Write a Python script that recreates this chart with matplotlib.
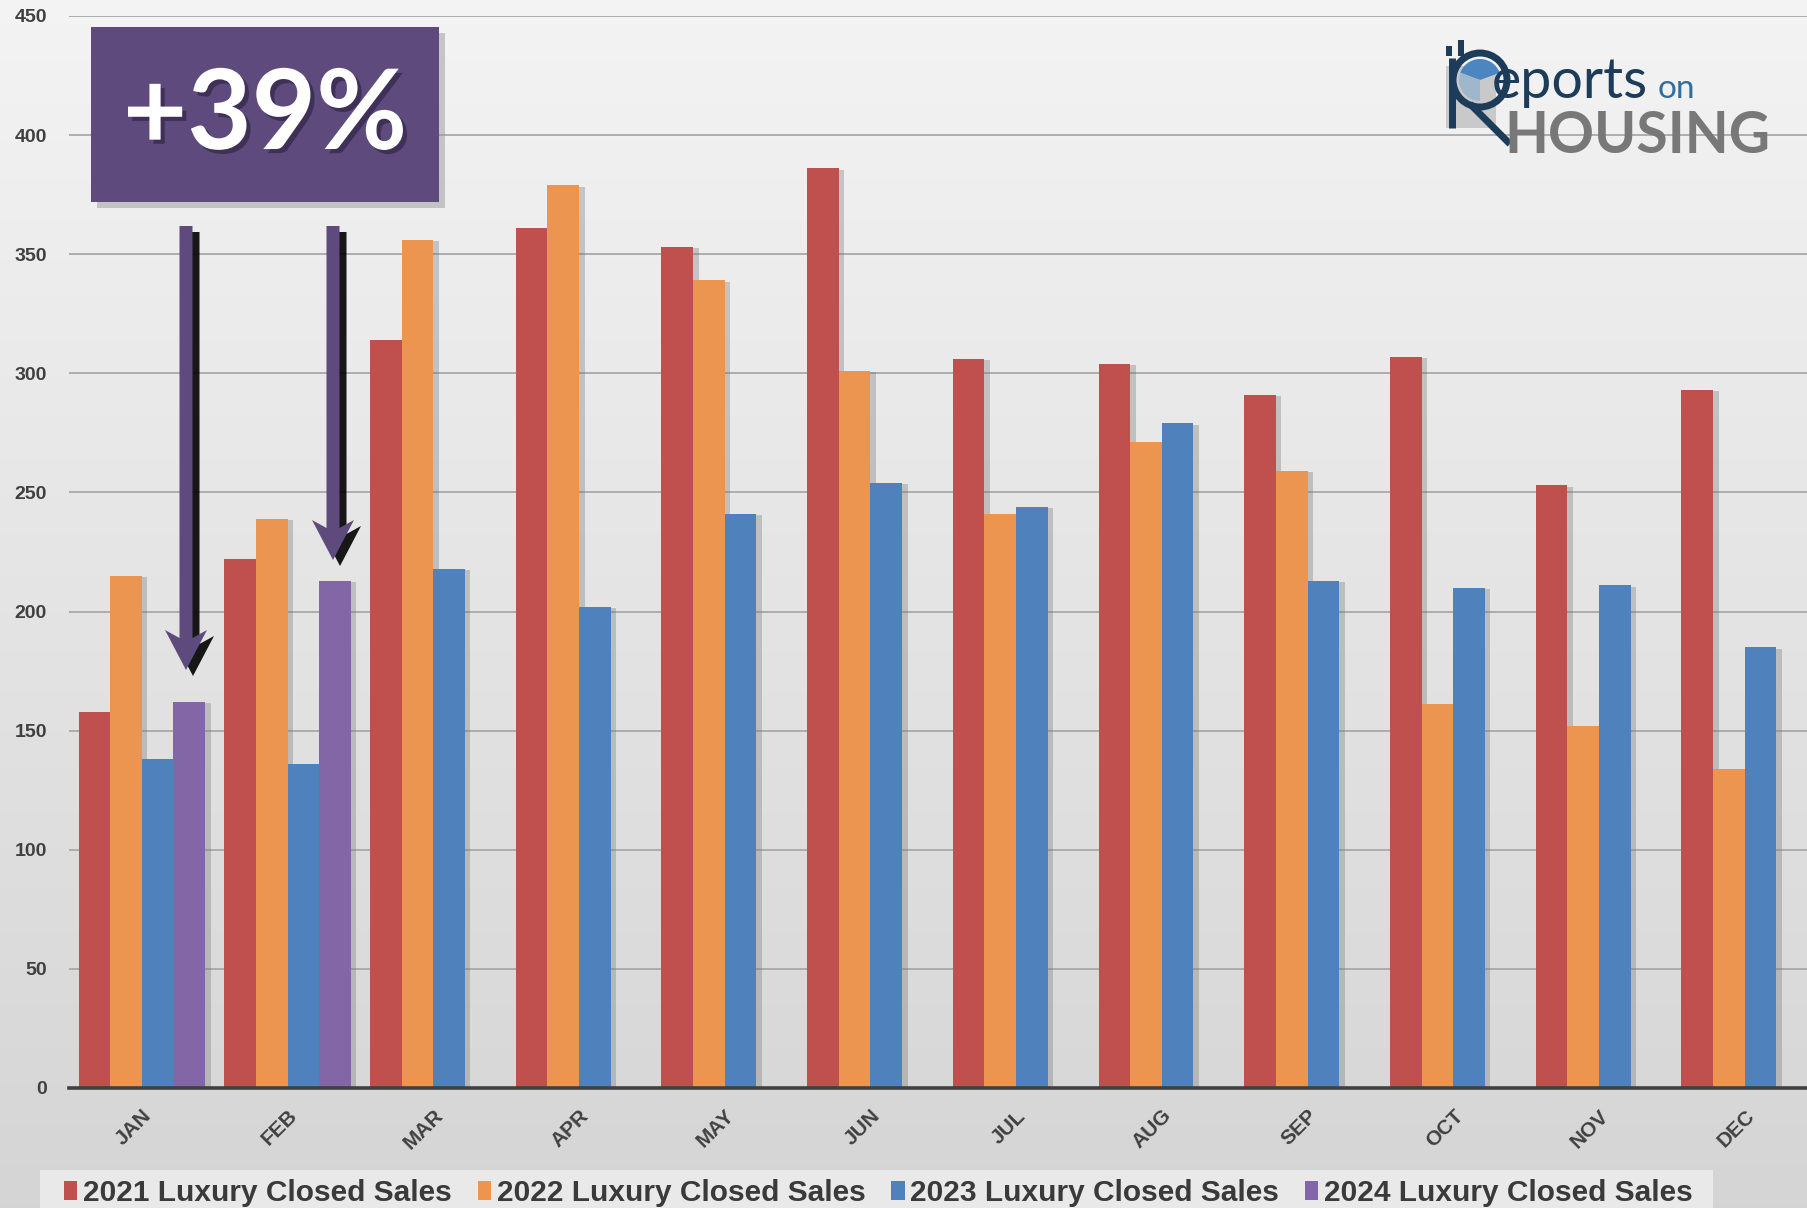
import numpy as np
import matplotlib
matplotlib.use("Agg")
import matplotlib.pyplot as plt
from matplotlib.patches import Rectangle, Polygon, Circle, Wedge
from matplotlib import patheffects as pe

# ---- data -------------------------------------------------------------
months = ["JAN", "FEB", "MAR", "APR", "MAY", "JUN",
          "JUL", "AUG", "SEP", "OCT", "NOV", "DEC"]
sales_2021 = [158, 222, 314, 361, 353, 386, 306, 304, 291, 307, 253, 293]
sales_2022 = [215, 239, 356, 379, 339, 301, 241, 271, 259, 161, 152, 134]
sales_2023 = [138, 136, 218, 202, 241, 254, 244, 279, 213, 210, 211, 185]
sales_2024 = [162, 213]
series_labels = ["2021 Luxury Closed Sales", "2022 Luxury Closed Sales",
                 "2023 Luxury Closed Sales", "2024 Luxury Closed Sales"]
yticks = list(range(0, 451, 50))
callout_text = "+39%"

colors = ["#C0504D", "#EC9550", "#4F81BD", "#8366A6"]

W, H = 1807, 1208
fig = plt.figure(figsize=(W / 100, H / 100), dpi=100)

# background gradient
bg = fig.add_axes([0, 0, 1, 1], zorder=0)
grad = np.linspace(0, 1, 256)[:, None]
top = np.array([0.955, 0.955, 0.955])
bot = np.array([0.835, 0.835, 0.835])
img = top[None, None, :] * (1 - grad[:, :, None]) + bot[None, None, :] * grad[:, :, None]
bg.imshow(img, aspect="auto", extent=[0, 1, 0, 1], origin="upper")
bg.set_axis_off()

# ---- main chart --------------------------------------------------------
ax = fig.add_axes([69 / W, 120 / H, 1748.5 / W, 1072 / H], zorder=1)
ax.set_facecolor("none")
x = np.arange(len(months))
bw = 0.217
all_series = [sales_2021, sales_2022, sales_2023, sales_2024]
shadow = [pe.SimplePatchShadow(offset=(4, -1), shadow_rgbFace="#777777", alpha=0.35), pe.Normal()]
handles = []
for i, (vals, c, lab) in enumerate(zip(all_series, colors, series_labels)):
    xs = x[:len(vals)] + bw * (i - 1.5)
    b = ax.bar(xs, vals, width=bw, color=c, label=lab, zorder=3, linewidth=0)
    for p in b.patches:
        p.set_path_effects(shadow)
    handles.append(Rectangle((0, 0), 1, 1, facecolor=c, linewidth=0))

ax.set_xlim(-0.5, 11.5)
ax.set_ylim(0, 450)
ax.set_yticks(yticks)
ax.set_yticklabels([str(v) for v in yticks])
ax.yaxis.grid(True, color="#A8A8A8", linewidth=1.3, zorder=0)
ax.set_axisbelow(True)
for s in ["top", "right", "left"]:
    ax.spines[s].set_visible(False)
ax.spines["bottom"].set_color("#404040")
ax.spines["bottom"].set_linewidth(2.6)
ax.spines["bottom"].set_zorder(4)
ax.tick_params(axis="y", length=0, pad=16, labelsize=14, labelcolor="#404040")
ax.tick_params(axis="x", length=0, pad=13, labelsize=15, labelcolor="#404040")
ax.set_xticks(x)
ax.set_xticklabels(months, rotation=45, ha="right", va="top", rotation_mode="anchor")
for t in ax.get_xticklabels() + ax.get_yticklabels():
    t.set_fontweight("bold")
    t.set_family(["Liberation Sans", "DejaVu Sans"])

# ---- overlay: legend panel, callout, arrows, logo ----------------------------
ov = fig.add_axes([0, 0, 1, 1], zorder=3)
ov.set_xlim(0, W)
ov.set_ylim(H, 0)
ov.set_axis_off()
ov.set_facecolor("none")

# legend panel background
ov.add_patch(Rectangle((40, 1170), 1673, 60, facecolor="#E9E9E9", linewidth=0, zorder=1))

leg = fig.legend(handles=handles, labels=series_labels, ncol=4,
                 loc="upper left", bbox_to_anchor=(64 / W, 1 - 1179 / H),
                 frameon=False, borderpad=0.0,
                 handlelength=0.45, handleheight=0.6, handletextpad=0.2,
                 columnspacing=0.85, borderaxespad=0,
                 prop={"family": ["Liberation Sans", "DejaVu Sans"],
                       "weight": "bold", "size": 21.5})
for t in leg.get_texts():
    t.set_color("#3A3A3A")

purple = "#5F4A7E"
# callout box with drop shadow
ov.add_patch(Rectangle((97, 33), 348, 175, facecolor="#9A9A9A", alpha=0.5, linewidth=0, zorder=1))
ov.add_patch(Rectangle((91, 27), 348, 175, facecolor=purple, linewidth=0, zorder=2))
ov.text(265, 117, callout_text, color="white", fontsize=80, fontweight="bold",
        family=["Lato", "DejaVu Sans"], ha="center", va="center", zorder=3,
        path_effects=[pe.withSimplePatchShadow(offset=(3, -3), shadow_rgbFace="#2A2040", alpha=0.6)])


def down_arrow(xc, y0, y1, zorder, color, dx=0, dy=0, alpha=1.0):
    sw, hw, hl = 6.5, 21, 40
    pts = [(xc - sw, y0), (xc + sw, y0), (xc + sw, y1 - hl + 8), (xc + hw, y1 - hl),
           (xc, y1), (xc - hw, y1 - hl), (xc - sw, y1 - hl + 8)]
    pts = [(px + dx, py + dy) for px, py in pts]
    ov.add_patch(Polygon(pts, closed=True, facecolor=color, edgecolor="none",
                         zorder=zorder, alpha=alpha))


for xc, tip in [(186, 670), (333, 560)]:
    down_arrow(xc, 226, tip, 4, "#000000", dx=7, dy=6, alpha=0.9)
    down_arrow(xc, 226, tip, 5, purple)

# logo
navy = "#1D3C59"
ov.add_patch(Rectangle((1446, 66), 50, 62, facecolor="#C9C9C9", linewidth=0, zorder=2))
ov.add_patch(Circle((1480, 80), 27, facecolor="none", edgecolor=navy, linewidth=5, zorder=3))
ov.add_patch(Wedge((1480, 80), 21, 200, 340, facecolor="#4C86C0", linewidth=0, zorder=3))
ov.add_patch(Wedge((1480, 80), 21, 90, 200, facecolor="#9FB7CC", linewidth=0, zorder=3))
ov.plot([1452, 1452], [58, 128], color=navy, linewidth=5, solid_capstyle="butt", zorder=3)
ov.plot([1470, 1510], [104, 144], color=navy, linewidth=5, solid_capstyle="butt", zorder=3)
for bx, bh in [(1446, 10), (1458, 16)]:
    ov.add_patch(Rectangle((bx, 56 - bh), 6, bh, facecolor=navy, linewidth=0, zorder=3))
ov.text(1492, 98, "eports", color=navy, fontsize=40, family=["Lato", "DejaVu Sans"],
        ha="left", va="baseline", zorder=3)
ov.text(1658, 98, "on", color="#2F6E9E", fontsize=24, family=["Lato", "DejaVu Sans"],
        ha="left", va="baseline", zorder=3)
ov.text(1504, 153, "HOUSING", color="#787878", fontsize=41, fontweight="bold",
        family=["Lato", "DejaVu Sans"], ha="left", va="baseline", zorder=3)

fig.savefig("out.png", dpi=100)
